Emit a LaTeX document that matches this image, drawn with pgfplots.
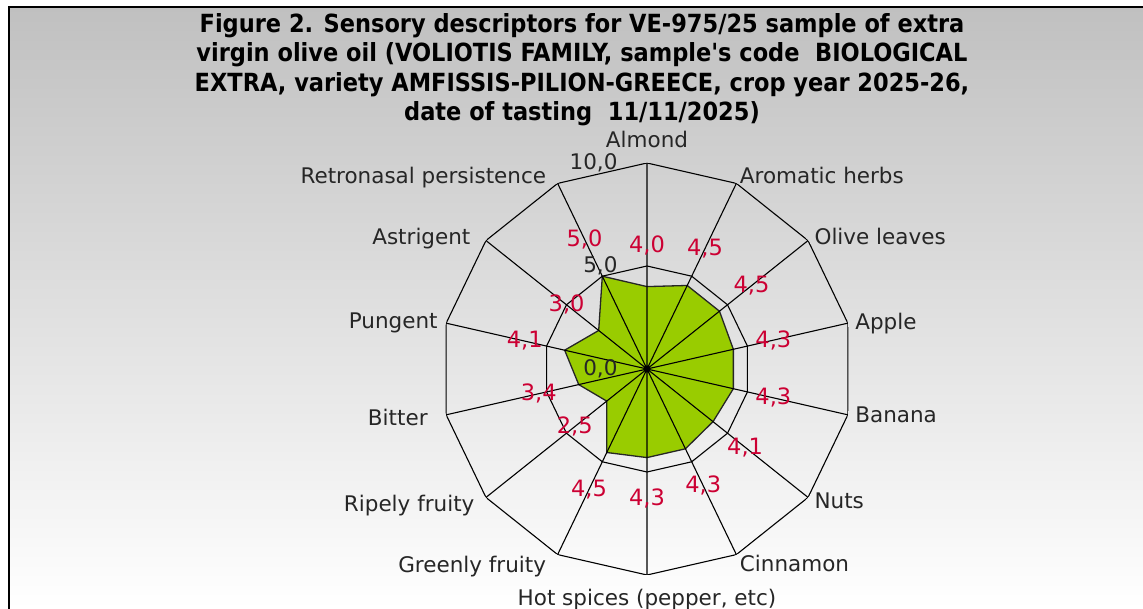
\documentclass[border=0pt]{standalone}
\usepackage{fontspec}
\setmainfont{DejaVu Sans}
\newfontfamily\titlefont{DejaVu Sans Condensed Bold}
\usepackage{pgfplots}
\usepackage{pgfplotstable}
\usepgfplotslibrary{polar}
\pgfplotsset{compat=1.18}
\definecolor{fillgreen}{RGB}{153,204,0}
\definecolor{labred}{RGB}{204,0,51}
\definecolor{bgtop}{RGB}{192,192,192}

\pgfplotstableread{
a r
90 4.0
115.7143 5.0
141.4286 3.0
167.1429 4.1
192.8571 3.4
218.5714 2.5
244.2857 4.5
270 4.3
295.7143 4.3
321.4286 4.1
347.1429 4.3
372.8571 4.3
398.5714 4.5
424.2857 4.5
}\datatable

\def\anclist{{"south","base east","east","east","east","east","north east","north","north west","west","west","west","west","base west"}}
\def\xslist{{0,-8,-12,-5,-15,-8,-8,0,0,3,4,4,3,0}}
\def\yslist{{12,0,2,0,-3,-8,2,-11,3,-3,0,0,4,0}}

\begin{document}
\begin{tikzpicture}[x=1pt,y=1pt]
\useasboundingbox (0,0) rectangle (1143,609);
\shade[top color=bgtop, bottom color=white] (8,0) rectangle (1143,602);
\draw[line width=2pt] (8.5,0) -- (8.5,601.5) -- (1143,601.5);
\node[font=\titlefont\fontsize{25}{29.5}\selectfont, align=center, anchor=north, inner sep=0pt] at (582,596)
 {Figure 2. Sensory descriptors for VE-975/25 sample of extra\\
  virgin olive oil (VOLIOTIS FAMILY, sample's code\ \ BIOLOGICAL\\
  EXTRA, variety AMFISSIS-PILION-GREECE, crop year 2025-26,\\
  date of tasting\ \ 11/11/2025)};
\begin{polaraxis}[
  at={(647pt,240pt)}, anchor=center,
  scale only axis, width=412pt, height=412pt,
  xmin=90, xmax=450, ymin=0, ymax=10,
  axis line style={draw=none},
  xtick={90,115.7143,141.4286,167.1429,192.8571,218.5714,244.2857,270,295.7143,321.4286,347.1429,372.8571,398.5714,424.2857},
  xticklabels={Almond,Retronasal persistence,Astrigent,Pungent,Bitter,Ripely fruity,Greenly fruity,{Hot spices (pepper, etc)},Cinnamon,Nuts,Banana,Apple,Olive leaves,Aromatic herbs},
  xticklabel style={/utils/exec={%
      \pgfmathparse{\anclist[\ticknum]}\global\let\curanc\pgfmathresult
      \pgfmathparse{\xslist[\ticknum]}\global\let\curxs\pgfmathresult
      \pgfmathparse{\yslist[\ticknum]}\global\let\curys\pgfmathresult},
    anchor=\curanc, xshift=\curxs pt, yshift=\curys pt, text=black!85},
  ytick={0,5,10},
  yticklabel style={text=black!85, xshift=-26pt},
  xmajorgrids=true, ymajorgrids=false,
  major grid style={black, line width=1.1pt},
  tick style={draw=none},
  ticklabel style={font=\fontsize{21.5}{24}\selectfont},
  axis on top,
  /pgf/number format/.cd, fixed, fixed zerofill, precision=1, use comma, assume math mode=true,
]
\addplot[fill=fillgreen, draw=black!85, line width=1.3pt,
  nodes near coords,
  visualization depends on={\thisrow{a} \as \ang},
  every node near coord/.append style={font=\fontsize{22.5}{24}\selectfont, text=labred, anchor=center, shift={(\ang:41pt)}}
  ] table[x=a, y=r] {\datatable} -- cycle;
\addplot[draw=black, line width=1.1pt] coordinates {(90,5) (115.7143,5) (141.4286,5) (167.1429,5) (192.8571,5) (218.5714,5) (244.2857,5) (270,5) (295.7143,5) (321.4286,5) (347.1429,5) (372.8571,5) (398.5714,5) (424.2857,5) (450,5)};
\addplot[draw=black, line width=1.1pt] coordinates {(90,10) (115.7143,10) (141.4286,10) (167.1429,10) (192.8571,10) (218.5714,10) (244.2857,10) (270,10) (295.7143,10) (321.4286,10) (347.1429,10) (372.8571,10) (398.5714,10) (424.2857,10) (450,10)};
\end{polaraxis}
\end{tikzpicture}
\end{document}
